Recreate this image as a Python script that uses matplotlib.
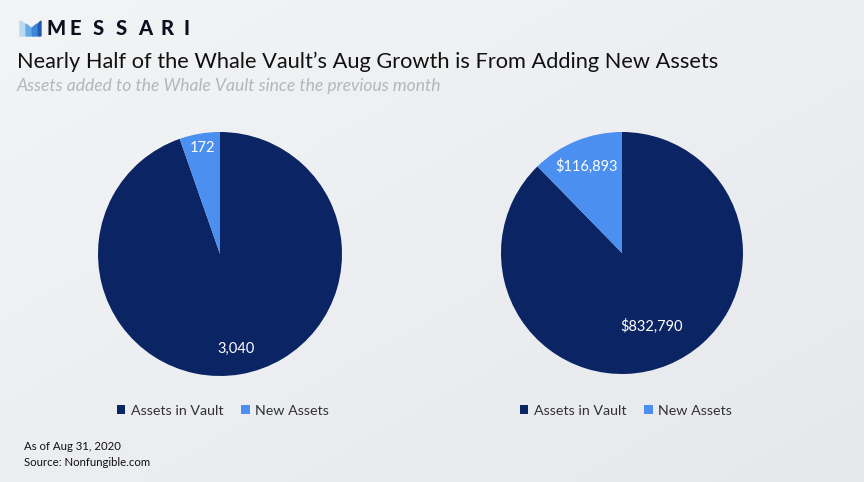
import matplotlib
matplotlib.use("Agg")
import matplotlib.pyplot as plt
import numpy as np
from matplotlib.patches import Polygon
from matplotlib.colors import LinearSegmentedColormap

categories = ["Assets in Vault", "New Assets"]
left_values = [3040, 172]
left_labels = ["3,040", "172"]
right_values = [832790, 116893]
right_labels = ["$832,790", "$116,893"]

colors = ["#0b2463", "#4b8ff0"]
FONT = "Lato"

W, H = 864, 482
fig = plt.figure(figsize=(W / 100, H / 100), dpi=100)

# background gradient
bg = fig.add_axes([0, 0, 1, 1], zorder=-10)
gx = np.linspace(0, 1, 200)
gy = np.linspace(0, 1, 200)
X, Y = np.meshgrid(gx, gy)
grad = 0.5 * X + 0.5 * Y
cmap = LinearSegmentedColormap.from_list("bg", ["#f3f4f6", "#e6e8ec"])
bg.imshow(grad, cmap=cmap, aspect="auto", extent=[0, 1, 1, 0])
bg.set_xlim(0, 1); bg.set_ylim(1, 0)
bg.axis("off")


def px_axes(cx, cy, r):
    return fig.add_axes([(cx - r) / W, (H - cy - r) / H, 2 * r / W, 2 * r / H])


def draw_pie(ax, values, labels, dists):
    wedges, _ = ax.pie(values, colors=colors, startangle=90, counterclock=False,
                       radius=1.0, wedgeprops=dict(linewidth=0))
    for w, lab, d in zip(wedges, labels, dists):
        ang = np.deg2rad((w.theta1 + w.theta2) / 2)
        ax.text(d * np.cos(ang), d * np.sin(ang), lab, ha="center", va="center",
                color="white", fontsize=10.5, family=FONT)
    ax.set_xlim(-1, 1); ax.set_ylim(-1, 1)
    ax.set_aspect("equal")
    ax.axis("off")
    return wedges


ax1 = px_axes(220, 254, 122)
w1 = draw_pie(ax1, left_values, left_labels, [0.79, 0.88])
ax2 = px_axes(622, 253, 121)
w2 = draw_pie(ax2, right_values, right_labels, [0.65, 0.77])

for wedges, cx in [(w1, 223), (w2, 626)]:
    fig.legend(wedges, categories, loc="center", bbox_to_anchor=(cx / W, 1 - 411 / H),
               ncol=2, frameon=False, prop=dict(family=FONT, size=10.3),
               handlelength=0.6, handleheight=0.6, handletextpad=0.4,
               columnspacing=1.2, labelcolor="#333333")

# logo
shapes = [
    [(20, 21), (25, 24), (25, 36), (20, 36)],
    [(26, 24), (31, 28), (31, 36), (26, 36)],
    [(32, 28), (37, 24), (37, 36), (32, 36)],
    [(38, 24), (41, 21), (41, 36), (38, 36)],
]
scol = ["#b9d8f2", "#6aaae4", "#3f86d6", "#1f5bb0"]
for s, c in zip(shapes, scol):
    poly = Polygon([(x / W, 1 - y / H) for x, y in s], closed=True, color=c,
                   transform=fig.transFigure)
    fig.add_artist(poly)
for i, ch in enumerate("MESSARI"):
    fig.text((47 + i * 22.8) / W, 1 - 28.5 / H, ch, fontsize=14.5, fontweight="black",
             family=FONT, color="#0b0f1e", va="center", ha="left")

fig.text(17 / W, 1 - 62 / H, "Nearly Half of the Whale Vault\u2019s Aug Growth is From Adding New Assets",
         fontsize=15.7, family=FONT, color="#111111", va="center", ha="left")
fig.text(17 / W, 1 - 86 / H, "Assets added to the Whale Vault since the previous month",
         fontsize=12.6, family=FONT, style="italic", color="#b3b6bb", va="center", ha="left")

fig.text(24 / W, 1 - 446 / H, "As of Aug 31, 2020", fontsize=8.2, family=FONT,
         color="#111111", va="center", ha="left")
fig.text(24 / W, 1 - 462 / H, "Source: Nonfungible.com", fontsize=8.2, family=FONT,
         color="#111111", va="center", ha="left")

fig.savefig("out.png", dpi=100)
